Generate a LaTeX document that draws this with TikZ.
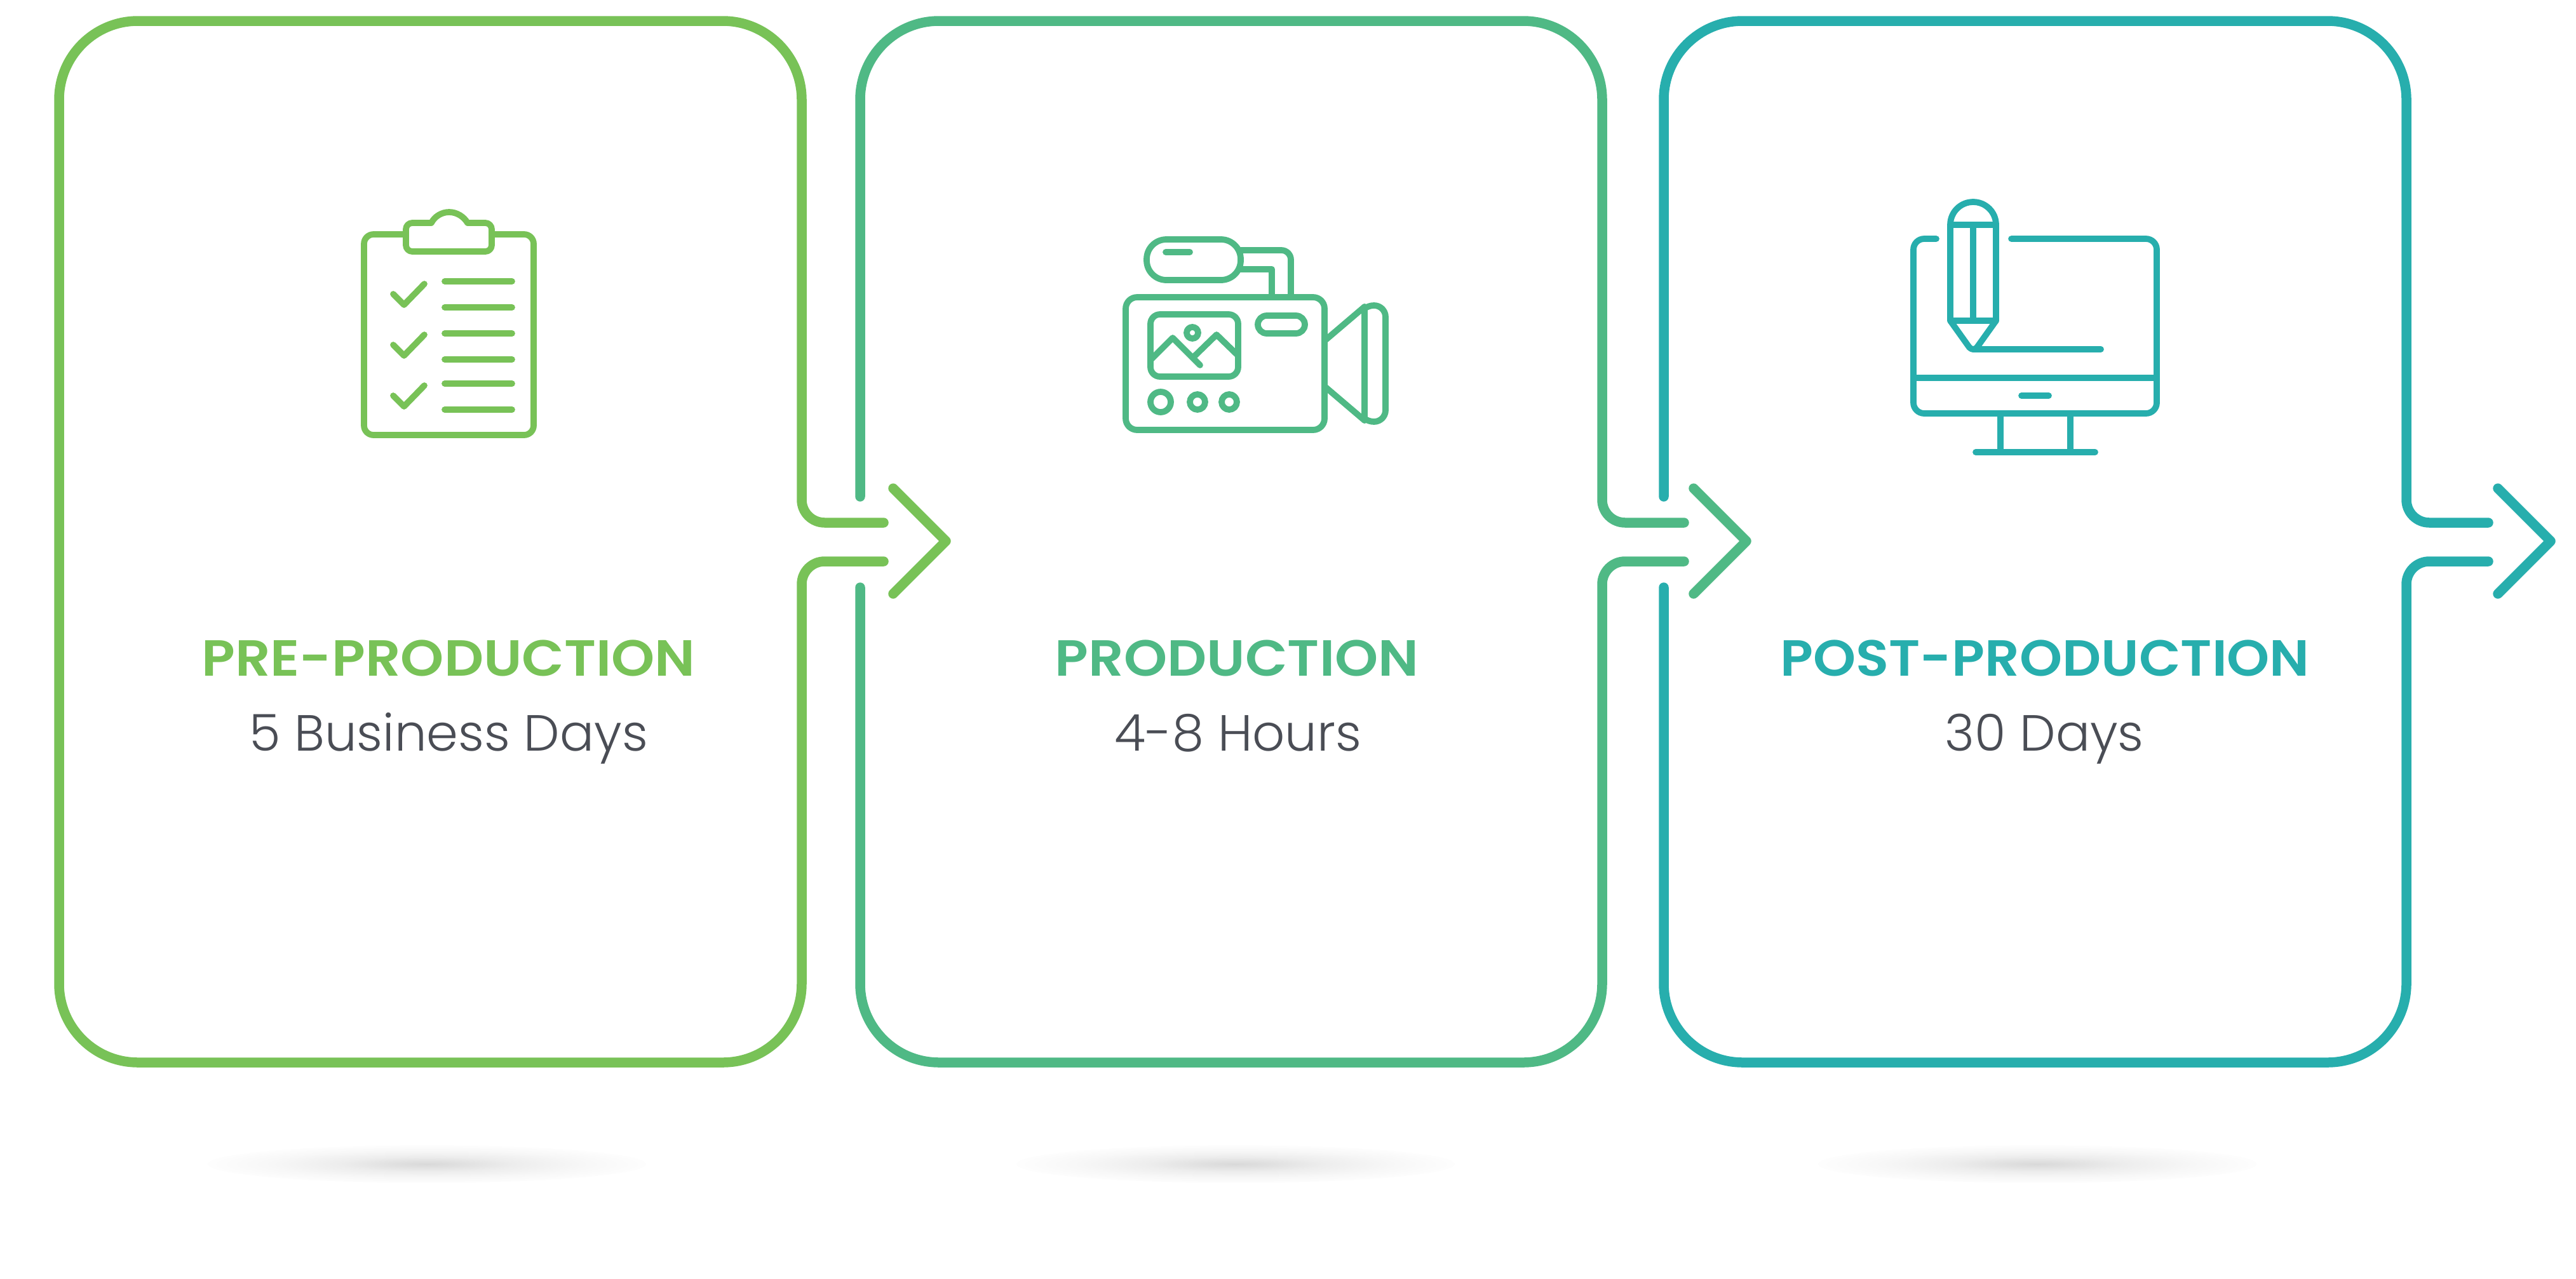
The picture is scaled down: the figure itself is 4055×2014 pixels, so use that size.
\documentclass[tikz,border=0pt]{standalone}
\usepackage{fontspec}
\setmainfont{Poppins}
\newfontfamily\titlefont[FakeStretch=1.085]{Poppins SemiBold}
\newfontfamily\titlefontnarrow[FakeStretch=1.068]{Poppins SemiBold}
\newfontfamily\subfont{Poppins Light}
\usetikzlibrary{calc}
\definecolor{cgreen}{HTML}{78C257}
\definecolor{cmid}{HTML}{4FB985}
\definecolor{cteal}{HTML}{27AEAD}
\definecolor{ctext}{HTML}{4A4D55}
\pgfdeclareradialshading{glowshade}{\pgfpoint{0bp}{0bp}}{%
 color(0bp)=(black!15); color(4bp)=(black!12); color(10bp)=(black!7); color(18bp)=(black!3); color(27bp)=(white); color(50bp)=(white)}
\tikzset{
  frame/.style={line width=3.1pt,line cap=round,line join=round},
  icon/.style={line width=1.95pt,line cap=round,line join=round},
  ttl/.style={anchor=base,inner sep=0pt,font=\titlefont\fontsize{16pt}{18pt}\selectfont},
  sub/.style={anchor=base,inner sep=0pt,text=ctext,font=\subfont\fontsize{16pt}{18pt}\selectfont},
  glow/.style={shading=glowshade,draw=none}
}
\begin{document}
\begin{tikzpicture}[x=0.2pt,y=-0.2pt]
\useasboundingbox (0,0) rectangle (4055,2014);
% shadows
\shade[glow] (672,1833) ellipse [x radius=345,y radius=30];
\shade[glow] (1945,1833) ellipse [x radius=345,y radius=30];
\shade[glow] (3207,1833) ellipse [x radius=345,y radius=30];
% frame 1
\draw[frame,cgreen] (1391,823) -- (1298,823) arc[start angle=90,end angle=180,radius=36] -- (1262,157)
  arc[start angle=0,end angle=-90,radius=124] -- (217,33) arc[start angle=-90,end angle=-180,radius=124]
  -- (93,1549) arc[start angle=180,end angle=90,radius=124] -- (1138,1673) arc[start angle=90,end angle=0,radius=124]
  -- (1262,920) arc[start angle=180,end angle=270,radius=36] -- (1391,884);
\draw[frame,cgreen] (1406,769) -- (1489,852) -- (1406,935);
% frame 2
\draw[frame,cmid] (1354,782) -- (1354,157) arc[start angle=180,end angle=270,radius=124] -- (2398,33)
  arc[start angle=-90,end angle=0,radius=124] -- (2522,787) arc[start angle=180,end angle=90,radius=36] -- (2651,823);
\draw[frame,cmid] (1354,925) -- (1354,1549) arc[start angle=180,end angle=90,radius=124] -- (2398,1673)
  arc[start angle=90,end angle=0,radius=124] -- (2522,920) arc[start angle=180,end angle=270,radius=36] -- (2651,884);
\draw[frame,cmid] (2666,769) -- (2749,852) -- (2666,935);
% frame 3
\draw[frame,cteal] (2619,782) -- (2619,157) arc[start angle=180,end angle=270,radius=124] -- (3664,33)
  arc[start angle=-90,end angle=0,radius=124] -- (3788,787) arc[start angle=180,end angle=90,radius=36] -- (3917,823);
\draw[frame,cteal] (2619,925) -- (2619,1549) arc[start angle=180,end angle=90,radius=124] -- (3664,1673)
  arc[start angle=90,end angle=0,radius=124] -- (3788,920) arc[start angle=180,end angle=270,radius=36] -- (3917,884);
\draw[frame,cteal] (3932,769) -- (4015,852) -- (3932,935);
% text
\node[ttl,text=cgreen] (t1) at (706,1064) {PRE-PRODUCTION};
\node[sub] (s1) at (706,1182) {5 Business Days};
\node[ttl,text=cmid] (t2) at (1947,1064) {PRODUCTION};
\node[sub] (s2) at (1949,1182) {4-8 Hours};
\node[ttl,text=cteal,font=\titlefontnarrow\fontsize{16pt}{18pt}\selectfont] (t3) at (3219,1064) {POST-PRODUCTION};
\node[sub] (s3) at (3218,1182) {30 Days};
% clipboard
\begin{scope}[icon,cgreen]
\draw (639,369) -- (588,369) arc[start angle=-90,end angle=-180,radius=15] -- (573,670)
  arc[start angle=180,end angle=90,radius=15] -- (825,685) arc[start angle=90,end angle=0,radius=15]
  -- (840,384) arc[start angle=0,end angle=-90,radius=15] -- (774,369);
\draw (679,351) .. controls (684,341) and (695,334) .. (707,334) .. controls (719,334) and (730,341) .. (736,351)
  -- (764,351) arc[start angle=-90,end angle=0,radius=10] -- (774,386) arc[start angle=0,end angle=90,radius=10]
  -- (649,396) arc[start angle=90,end angle=180,radius=10] -- (639,361) arc[start angle=180,end angle=270,radius=10] -- cycle;
\foreach \y in {443,484,525,566,604,645} \draw (700,\y) -- (806,\y);
\foreach \y in {0,80,160} \draw (619,463+\y) -- (636,480+\y) -- (668,447+\y);
\end{scope}
% camera
\begin{scope}[icon,cmid]
\draw[rounded corners=18*0.2pt] (1772,468) rectangle (2085,677);
\draw[rounded corners=31*0.2pt] (1805,377) rectangle (1953,441);
\draw (1835,397) -- (1873,397);
\draw (1953,394) -- (2017,394) arc[start angle=-90,end angle=0,radius=15] -- (2032,468);
\draw (1953,424) -- (2002,424) -- (2002,468);
\draw[rounded corners=15*0.2pt] (1811,495) rectangle (1949,593);
\draw (1877,524) circle[radius=9];
\draw (1811,567) -- (1846,532) -- (1889,575);
\draw (1879,562) -- (1915,527) -- (1949,560);
\draw[rounded corners=14*0.2pt] (1980,497) rectangle (2054,525);
\draw (1827,633) circle[radius=16];
\draw (1885,633) circle[radius=12];
\draw (1935,633) circle[radius=12];
\draw (2087,535) -- (2148,483) -- (2148,662) -- (2087,610);
\draw (2148,486) .. controls (2152,483) and (2157,481) .. (2163,481) arc[start angle=-90,end angle=0,radius=18]
  -- (2181,646) arc[start angle=0,end angle=90,radius=18] .. controls (2157,664) and (2152,662) .. (2148,659);
\end{scope}
% monitor
\begin{scope}[icon,cteal]
\draw (3048,376) -- (3029,376) arc[start angle=-90,end angle=-180,radius=17] -- (3012,634)
  arc[start angle=180,end angle=90,radius=17] -- (3378,651) arc[start angle=90,end angle=0,radius=17]
  -- (3395,393) arc[start angle=0,end angle=-90,radius=17] -- (3166,376);
\draw (3012,595) -- (3395,595);
\draw (3182,623) -- (3225,623);
\draw (3149,651) -- (3149,712);
\draw (3259,651) -- (3259,712);
\draw (3110,712) -- (3298,712);
\draw (3070,354) arc[start angle=180,end angle=360,radius=36] -- (3142,505) -- (3112,547)
  .. controls (3110,549) and (3108,550) .. (3106,550) .. controls (3104,550) and (3102,549) .. (3100,547) -- (3070,505) -- cycle;
\draw (3070,354) -- (3142,354);
\draw (3070,505) -- (3142,505);
\draw (3106,354) -- (3106,505);
\draw (3106,550) -- (3307,550);
\end{scope}
\end{tikzpicture}
\end{document}
